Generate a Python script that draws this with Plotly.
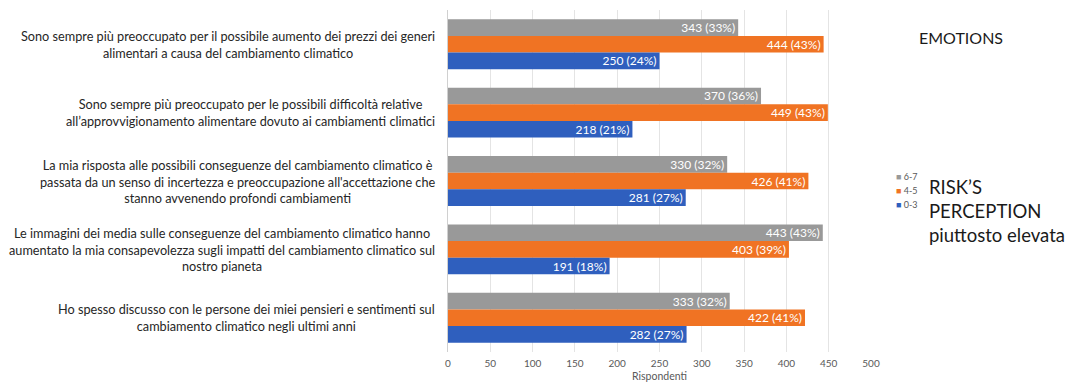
import plotly.graph_objects as go

# Statements (top to bottom), with <br> line breaks for the centred labels
statements = [
    "Sono sempre più preoccupato per il possibile aumento dei prezzi dei generi<br>alimentari a causa del cambiamento climatico",
    "Sono sempre più preoccupato per le possibili difficoltà relative<br>all’approvvigionamento alimentare dovuto ai cambiamenti climatici",
    "La mia risposta alle possibili conseguenze del cambiamento climatico è<br>passata da un senso di incertezza e preoccupazione all'accettazione che<br>stanno avvenendo profondi cambiamenti",
    "Le immagini dei media sulle conseguenze del cambiamento climatico hanno<br>aumentato la mia consapevolezza sugli impatti del cambiamento climatico sul<br>nostro pianeta",
    "Ho spesso discusso con le persone dei miei pensieri e sentimenti sul<br>cambiamento climatico negli ultimi anni",
]
keys = ["Q1", "Q2", "Q3", "Q4", "Q5"]

groups = ["6-7", "4-5", "0-3"]
counts = {
    "6-7": [343, 370, 330, 443, 333],
    "4-5": [444, 449, 426, 403, 422],
    "0-3": [250, 218, 281, 191, 282],
}
percents = {
    "6-7": [33, 36, 32, 43, 32],
    "4-5": [43, 43, 41, 39, 41],
    "0-3": [24, 21, 27, 18, 27],
}
colors = {"6-7": "#999999", "4-5": "#f07323", "0-3": "#2f5fbe"}

x_ticks = [0, 50, 100, 150, 200, 250, 300, 350, 400, 450, 500]

FONT = "Lato"

fig = go.Figure()
for g in groups:
    fig.add_trace(go.Bar(
        y=keys,
        x=counts[g],
        orientation="h",
        name=g,
        marker=dict(color=colors[g], line=dict(width=0)),
        text=[f"{c} ({p}%)" for c, p in zip(counts[g], percents[g])],
        textposition="inside",
        insidetextanchor="end",
        constraintext="none",
        textfont=dict(family=FONT, size=12, color="white"),
        showlegend=False,
    ))

annotations = []
for k, s in zip(keys, statements):
    annotations.append(dict(
        x=-0.026, xref="paper", y=k, yref="y",
        xanchor="right", yanchor="middle", align="center",
        text=s, showarrow=False,
        font=dict(family=FONT, size=12.7, color="#262626"),
    ))

# Title blocks on the right
annotations.append(dict(
    x=1.108, xref="paper", y=0.92, yref="paper",
    text="EMOTIONS", showarrow=False, xanchor="left", yanchor="middle",
    font=dict(family=FONT, size=16, color="#1a1a1a"),
))
annotations.append(dict(
    x=1.133, xref="paper", y=0.412, yref="paper",
    text="RISK’S<br>PERCEPTION<br>piuttosto elevata", showarrow=False,
    xanchor="left", yanchor="middle", align="left",
    font=dict(family=FONT, size=18.5, color="#1a1a1a"),
))

# Compact key: coloured square + score band
key_y = [0.512, 0.471, 0.430]
for g, ky in zip(groups, key_y):
    annotations.append(dict(
        x=1.0545, xref="paper", y=ky, yref="paper",
        text=f"<span style='color:{colors[g]}'>■</span> {g}",
        showarrow=False, xanchor="left", yanchor="middle",
        font=dict(family=FONT, size=9, color="#595959"),
    ))

fig.update_layout(
    width=1070, height=386,
    margin=dict(l=448, r=199, t=10, b=34),
    paper_bgcolor="white", plot_bgcolor="white",
    barmode="group", bargap=0.27, bargroupgap=0,
    font=dict(family=FONT),
    showlegend=False,
    annotations=annotations,
    xaxis=dict(
        range=[0, 500], tickvals=x_ticks, showgrid=True,
        gridcolor="#e4e4e4", gridwidth=1, zeroline=False,
        tickfont=dict(family=FONT, size=10, color="#595959"),
        ticklabelstandoff=4,
        title=dict(text="Rispondenti", font=dict(family=FONT, size=10.5, color="#595959"), standoff=4),
        showline=False, ticks="", automargin=False,
    ),
    yaxis=dict(
        autorange="reversed", showticklabels=False, showgrid=False,
        showline=True, linecolor="#d0d0d0", zeroline=False, automargin=False,
    ),
)

fig.write_html("out.html")
